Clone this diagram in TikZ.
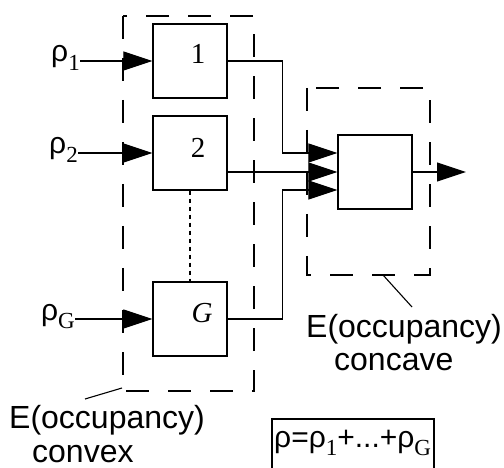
\documentclass[tikz,border=0pt]{standalone}
\usepackage{fontspec}
\setmainfont{Liberation Serif}
\newfontfamily\sansf{Liberation Sans}
\usetikzlibrary{arrows.meta}
\newcommand{\rhobig}{{\sansf\fontsize{30}{30}\selectfont ρ}}
\newcommand{\subsc}[1]{\raisebox{-8.5pt}{\fontsize{23}{23}\selectfont #1}}
\begin{document}
\begin{tikzpicture}[x=1pt,y=-1pt,
  blk/.style={draw, line width=1.2pt, minimum width=74pt, minimum height=74pt, inner sep=0pt},
  grp/.style={draw, line width=1.1pt, dash pattern=on 23pt off 19pt},
  wire/.style={line width=1.1pt},
  tip/.style={-{Triangle[length=29pt,width=19pt]}},
  dotline/.style={line width=1.1pt, dash pattern=on 4pt off 4pt},
  lbl/.style={inner sep=0pt, font=\sansf\fontsize{32}{36}\selectfont},
  num/.style={inner sep=0pt, font=\fontsize{29}{29}\selectfont},
  rho/.style={inner sep=0pt, anchor=base east}]
\useasboundingbox (0,0) rectangle (504,468);
\fill[white] (0,0) rectangle (504,468);
% dashed groups
\draw[grp] (123,16) rectangle (254,391);
\draw[grp] (307,88) rectangle (430,275);
% blocks
\node[blk] (b1) at (190,61) {};
\node[blk] (b2) at (190,153) {};
\node[blk] (bG) at (190,319) {};
\node[blk] (sum) at (375,172) {};
\node[num] (t1) at (198,54) {1};
\node[num] (t2) at (198,148) {2};
\node[num] (tG) at (202,313) {\itshape G};
% input labels
\node[rho] (r1) at (80,62) {\rhobig\subsc{1}};
\node[rho] (r2) at (78,154) {\rhobig\subsc{2}};
\node[rho] (rG) at (75,320) {\rhobig\subsc{G}};
% inputs
\draw[wire,tip] (r1.east |- b1.west) -- (b1.west);
\draw[wire,tip] (r2.east |- b2.west) -- (b2.west);
\draw[wire,tip] (rG.east |- bG.west) -- (bG.west);
% dotted link
\draw[dotline] (b2.south) -- (bG.north);
% outputs to sum
\draw[wire,tip] (b1.east) -- ++(55,0) |- ([yshift=19pt]sum.west);
\draw[wire,tip] ([yshift=-19pt]b2.east) -- (sum.west);
\draw[wire,tip] (bG.east) -- ++(55,0) |- ([yshift=-18pt]sum.west);
\coordinate (out) at (466,172);
\draw[wire,tip] (sum.east) -- (out);
% labels and leaders
\node[lbl, anchor=base west] (cvx1) at (9,428) {E(occupancy)};
\node[lbl, anchor=base west] (cvx2) at (32,462) {convex};
\node[lbl, anchor=base west] (ccv1) at (306,337) {E(occupancy)};
\node[lbl, anchor=base west] (ccv2) at (334,370) {concave};
\coordinate (lc1) at (122,388);
\coordinate (lc2) at (85,399);
\draw[wire] (lc1) -- (lc2);
\coordinate (lk1) at (383,275);
\coordinate (lk2) at (412,307);
\draw[wire] (lk1) -- (lk2);
% formula
\node[inner sep=0pt, anchor=base west] (form) at (274,447)
  {\rhobig{\sansf\fontsize{30}{30}\selectfont =}\rhobig\subsc{1}{\sansf\fontsize{30}{30}\selectfont +...+}\rhobig\subsc{G}};
\draw[wire] (272,470) |- (434,419) -- (434,470);
\end{tikzpicture}
\end{document}
